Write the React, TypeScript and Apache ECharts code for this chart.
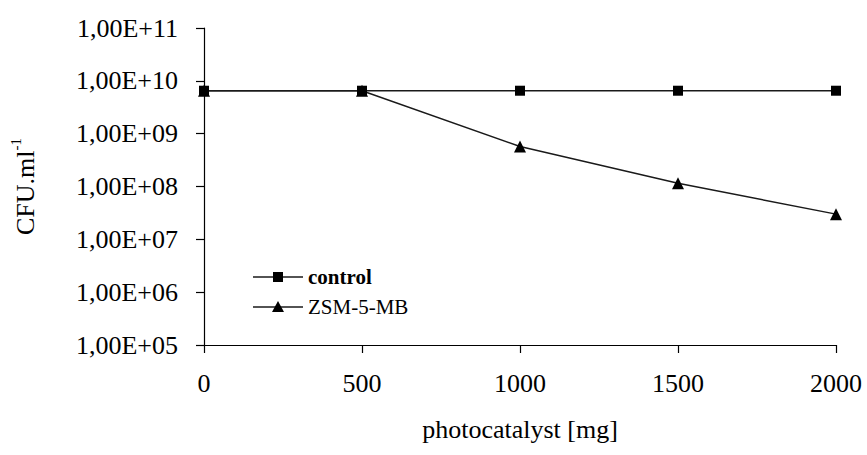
import React, { useEffect, useRef } from "react";
import * as echarts from "echarts";

const xValues = [0, 500, 1000, 1500, 2000];
const controlValues = [6.5e9, 6.5e9, 6.5e9, 6.5e9, 6.5e9];
const zsmValues = [6.5e9, 6.5e9, 5.7e8, 1.15e8, 3.0e7];
const seriesNames = ["control", "ZSM-5-MB"];
const xTicks = [0, 500, 1000, 1500, 2000];
const yTicks = [1e5, 1e6, 1e7, 1e8, 1e9, 1e10, 1e11];
const xTitle = "photocatalyst [mg]";

const FONT = "Liberation Serif";

const fmtY = (v: number) => {
  const e = Math.round(Math.log10(v));
  return "1,00E+" + String(e).padStart(2, "0");
};

const txt = (x: number, y: number, text: string, size: number, align: string, extra: any = {}) => ({
  type: "text",
  x,
  y,
  silent: true,
  style: {
    text,
    fontFamily: FONT,
    fontSize: size,
    fill: "#000",
    align,
    textAlign: align,
    verticalAlign: "middle",
    textVerticalAlign: "middle",
    ...extra,
  },
});

export default function App() {
  const ref = useRef<HTMLDivElement>(null);
  useEffect(() => {
    if (!ref.current) return;
    const chart = echarts.init(ref.current, null, { renderer: "svg" });
    const lineColor = "#1a1a1a";
    chart.setOption({
      animation: false,
      backgroundColor: "#fff",
      textStyle: { fontFamily: FONT, color: "#000" },
      grid: { left: 193, right: 31, top: 28, bottom: 110, containLabel: false },
      xAxis: {
        type: "value",
        min: 0,
        max: 2000,
        interval: 500,
        axisLine: { show: true, onZero: false, lineStyle: { color: "#000", width: 1.2 } },
        axisTick: { show: true, inside: false, length: 8, lineStyle: { color: "#000", width: 1.2 } },
        axisLabel: { show: false },
        splitLine: { show: false },
      },
      yAxis: {
        type: "log",
        logBase: 10,
        min: 1e5,
        max: 1e11,
        splitNumber: 6,
        name: "{m|CFU.ml}{s|-1}",
        nameLocation: "middle",
        nameGap: 166,
        nameRotate: 90,
        nameTextStyle: {
          fontFamily: FONT,
          color: "#000",
          rich: {
            m: { fontFamily: FONT, fontSize: 26, color: "#000", lineHeight: 30, verticalAlign: "bottom" },
            s: { fontFamily: FONT, fontSize: 15, color: "#000", lineHeight: 30, verticalAlign: "top" },
          },
        },
        axisLine: { show: true, lineStyle: { color: "#000", width: 1.2 } },
        axisTick: { show: true, inside: false, length: 8, lineStyle: { color: "#000", width: 1.2 } },
        axisLabel: { show: false },
        splitLine: { show: false },
      },
      series: [
        {
          name: seriesNames[0],
          type: "line",
          data: xValues.map((x, i) => [x, controlValues[i]]),
          symbol: "rect",
          symbolSize: 10,
          z: 3,
          lineStyle: { color: lineColor, width: 1.5 },
          itemStyle: { color: "#000" },
        },
        {
          name: seriesNames[1],
          type: "line",
          data: xValues.map((x, i) => [x, zsmValues[i]]),
          symbol: "triangle",
          symbolSize: 12,
          z: 2,
          lineStyle: { color: lineColor, width: 1.5 },
          itemStyle: { color: "#000" },
        },
      ],
    });

    const pt = (x: number, y: number) =>
      chart.convertToPixel({ gridIndex: 0 } as any, [x, y]) as unknown as number[];
    const [x0, yBottom] = pt(xTicks[0], yTicks[0]);
    const g: any[] = [];
    yTicks.forEach((v) => {
      const p = pt(xTicks[0], v);
      g.push(txt(x0 - 26, p[1], fmtY(v), 26, "right"));
    });
    xTicks.forEach((v) => {
      const p = pt(v, yTicks[0]);
      g.push(txt(p[0], yBottom + 38, String(v), 26, "center"));
    });
    const mid = pt((xTicks[0] + xTicks[xTicks.length - 1]) / 2, yTicks[0]);
    g.push(txt(mid[0], yBottom + 84, xTitle, 26, "center"));

    // legend
    const lx = 253;
    const rows = [277, 307];
    rows.forEach((ry, i) => {
      g.push({
        type: "line",
        silent: true,
        shape: { x1: lx, y1: ry, x2: lx + 50, y2: ry },
        style: { stroke: lineColor, lineWidth: 1.5 },
      });
      if (i === 0) {
        g.push({
          type: "rect",
          silent: true,
          shape: { x: lx + 20, y: ry - 5, width: 10, height: 10 },
          style: { fill: "#000" },
        });
      } else {
        g.push({
          type: "polygon",
          silent: true,
          shape: { points: [[lx + 25, ry - 6], [lx + 19, ry + 5], [lx + 31, ry + 5]] },
          style: { fill: "#000" },
        });
      }
      g.push(
        txt(lx + 55, ry, seriesNames[i], 21, "left", i === 0 ? { fontWeight: "bold" } : {})
      );
    });
    chart.setOption({ graphic: g });

    return () => chart.dispose();
  }, []);
  return (
    <div
      ref={ref}
      style={{ position: "fixed", left: 0, top: 0, width: 867, height: 455, background: "#fff" }}
    />
  );
}
